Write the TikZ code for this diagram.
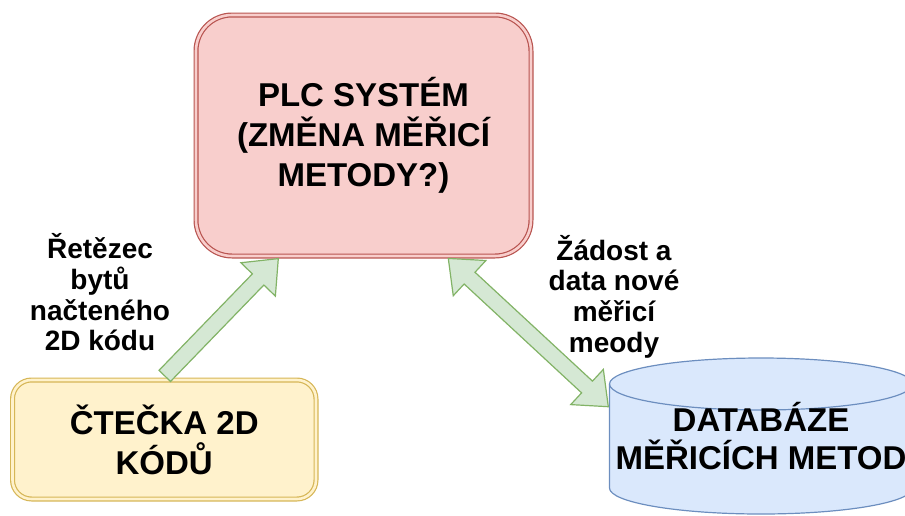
\documentclass[tikz,border=0pt]{standalone}
\usepackage{fontspec}
\setmainfont{Liberation Sans}
\usetikzlibrary{calc}

\definecolor{plcfill}{HTML}{F8CECC}
\definecolor{plcline}{HTML}{B85450}
\definecolor{readfill}{HTML}{FFF2CC}
\definecolor{readline}{HTML}{D6B656}
\definecolor{dbfill}{HTML}{DAE8FC}
\definecolor{dbline}{HTML}{6C8EBF}
\definecolor{flowfill}{HTML}{D5E8D4}
\definecolor{flowline}{HTML}{82B366}

\tikzset{
  box/.style={rectangle, line width=1.2pt, double distance=2.6pt, align=center,
    inner sep=0pt, font=\bfseries\fontsize{33}{40}\selectfont},
  plcbox/.style={box, draw=plcline, double=plcfill, fill=plcfill,
    rounded corners=36pt, minimum width=335pt, minimum height=241pt},
  readbox/.style={box, draw=readline, double=readfill, fill=readfill,
    rounded corners=19pt, minimum width=303.5pt, minimum height=119pt},
  dbshape/.style={draw=dbline, fill=dbfill, line width=1.2pt},
  dbtext/.style={align=center, inner sep=0pt,
    font=\bfseries\fontsize{33}{38}\selectfont},
  lbl/.style={align=center, inner sep=0pt,
    font=\bfseries\fontsize{28}{30.7}\selectfont},
  flowarrow/.style={draw=flowline, fill=flowfill, line width=1.2pt, line join=miter}
}

% block arrow with one head: #1 tail, #2 tip
\newcommand{\onewayflow}[2]{%
  \coordinate (hd) at ($(#2)!29pt!(#1)$);
  \draw[flowarrow] ($(#1)!8pt!90:(#2)$) -- ($(hd)!8pt!90:(#2)$)
    -- ($(hd)!24pt!90:(#2)$) -- (#2) -- ($(hd)!24pt!-90:(#2)$)
    -- ($(hd)!8pt!-90:(#2)$) -- ($(#1)!8pt!-90:(#2)$) -- cycle;}

% block arrow with heads at both ends
\newcommand{\twowayflow}[2]{%
  \coordinate (ha) at ($(#1)!29pt!(#2)$);
  \coordinate (hb) at ($(#2)!29pt!(#1)$);
  \draw[flowarrow] (#1) -- ($(ha)!24pt!90:(#2)$) -- ($(ha)!8pt!90:(#2)$)
    -- ($(hb)!8pt!90:(#2)$) -- ($(hb)!24pt!90:(#2)$) -- (#2)
    -- ($(hb)!24pt!-90:(#2)$) -- ($(hb)!8pt!-90:(#2)$)
    -- ($(ha)!8pt!-90:(#2)$) -- ($(ha)!24pt!-90:(#2)$) -- cycle;}

\begin{document}
\begin{tikzpicture}[x=1pt, y=-1pt]
\useasboundingbox (0,0) rectangle (905,515);
\clip (0,0) rectangle (905,515);

% PLC system
\node[plcbox] (plc) at (363.5,135.5) {PLC SYSTÉM\\(ZMĚNA MĚŘICÍ\\METODY?)};

% 2D code reader
\node[readbox] (reader) at (164.25,439.5) {ČTEČKA 2D\\KÓDŮ};

% database cylinder
\draw[dbshape] (609.5,384) -- (609.5,488)
  arc[start angle=180, end angle=360, x radius=151.5pt, y radius=26pt]
  -- (912.5,384)
  arc[start angle=0, end angle=180, x radius=151.5pt, y radius=26pt] -- cycle;
\draw[dbshape, fill=none] (609.5,384)
  arc[start angle=180, end angle=360, x radius=151.5pt, y radius=26pt];
\coordinate (dbwest) at (609.5,406.7);
\node[dbtext] (db) at (761,435.7) {DATABÁZE\\MĚŘICÍCH METOD};

% connector labels
\node[lbl] (lblread) at (100,292.5) {Řetězec\\bytů\\načteného\\2D kódu};
\node[lbl] (lbldb) at (614,296.5) {Žádost a\\data nové\\měřicí\\meody};

% connectors
\coordinate (readout) at ($(reader.north)+(0.5,-3.5)$);
\coordinate (plcin) at ($(plc.south)+(-85.2,2)$);
\coordinate (plcio) at ($(plc.south)+(84.8,1.8)$);
\coordinate (dbio) at ($(dbwest)+(-1.2,0)$);
\onewayflow{readout}{plcin}
\twowayflow{plcio}{dbio}
\end{tikzpicture}
\end{document}
